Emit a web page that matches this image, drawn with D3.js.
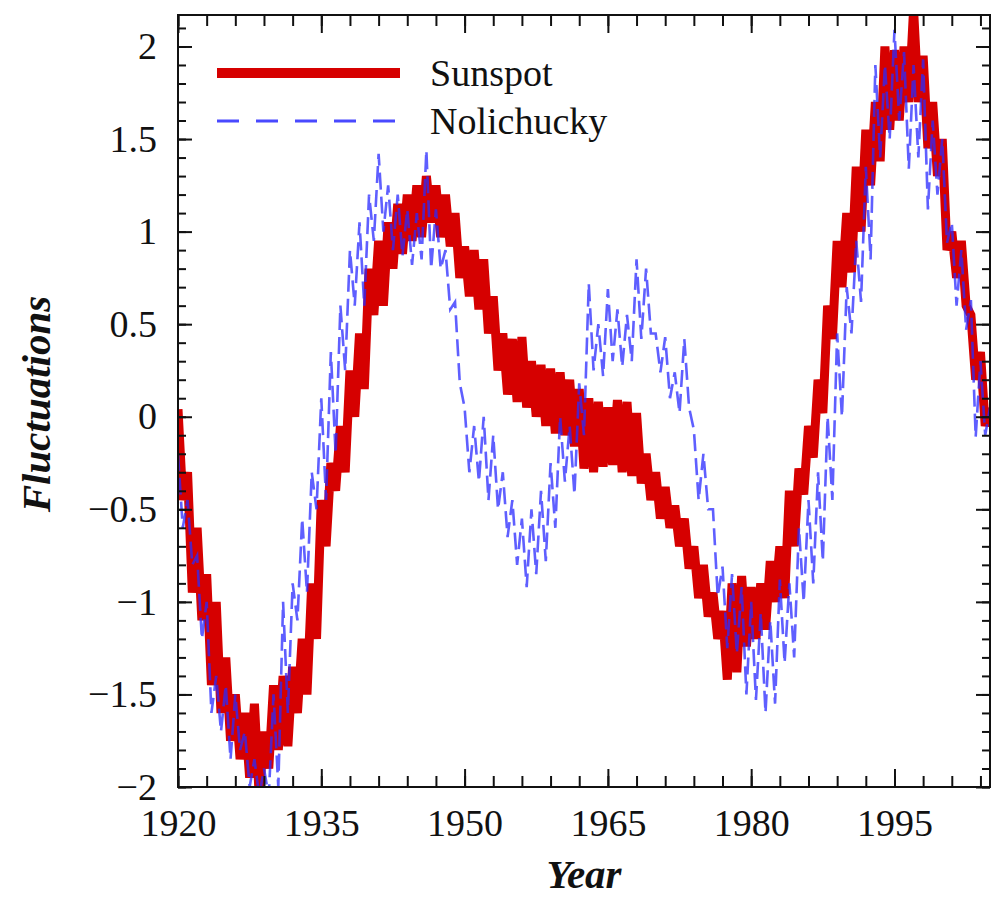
<!DOCTYPE html>
<html>
<head>
<meta charset="utf-8">
<script src="https://cdn.jsdelivr.net/npm/d3@7"></script>
<style>
  html, body { margin: 0; padding: 0; background: #fff; }
  svg { display: block; }
  text { font-family: "Liberation Serif", "Times New Roman", serif; fill: #111; }
</style>
</head>
<body>
<svg id="chart" width="991" height="898"></svg>
<script>
// ---- data (half-year samples, starting 1920.0) ----
const startYear = 1920;
const sampleStep = 0.5;
const sunspot = [
  0.04,-0.45, -0.3,-0.95, -0.6,-1.1, -0.85,-1.45, -1.0,-1.6,
  -1.3,-1.75, -1.5,-1.85, -1.6,-1.95, -1.55,-2.05, -1.7,-1.9,
  -1.45,-1.8, -1.4,-1.78, -1.35,-1.6, -1.2,-1.5, -0.9,-1.2,
  -0.45,-0.7, -0.25,-0.4, -0.05,-0.3, 0.25,0.0, 0.45,0.15,
  0.8,0.55, 0.95,0.6, 1.05,0.8, 1.15,0.88, 1.2,0.95,
  1.25,0.97, 1.3,1.05, 1.25,0.97, 1.2,0.92, 1.1,0.75,
  0.92,0.65, 0.9,0.58, 0.85,0.45, 0.65,0.25, 0.45,0.12,
  0.42,0.08, 0.43,0.05, 0.3,0.0, 0.28,-0.05, 0.26,-0.09,
  0.24,-0.1, 0.2,-0.16, 0.15,-0.28, 0.1,-0.3, 0.08,-0.27,
  0.05,-0.26, 0.09,-0.3, 0.08,-0.32, 0.02,-0.36, -0.2,-0.45,
  -0.3,-0.55, -0.38,-0.6, -0.48,-0.7, -0.55,-0.82, -0.7,-0.98,
  -0.8,-1.08, -0.95,-1.2, -1.05,-1.42, -0.9,-1.38, -0.86,-1.24,
  -0.92,-1.2, -0.9,-1.15, -0.78,-1.0, -0.7,-0.98, -0.4,-0.7,
  -0.28,-0.42, -0.05,-0.22, 0.2,0.02, 0.6,0.42, 0.95,0.7,
  1.1,0.78, 1.35,1.0, 1.55,1.25, 1.7,1.38, 2.0,1.55,
  1.98,1.6, 2.0,1.7, 2.2,1.7, 1.95,1.45, 1.7,1.3,
  1.5,0.9, 1.0,0.75, 0.95,0.6, 0.55,0.2, 0.35,-0.05,
  0.05
];
const nolichucky = [
  -0.2,-0.6, -0.45,-0.8, -0.75,-1.2, -1.0,-1.6, -1.4,-1.7,
  -1.45,-1.85, -1.5,-1.8, -1.7,-2.0, -1.85,-2.05, -1.9,-2.05,
  -1.5,-2.0, -1.0,-1.6, -0.9,-1.1, -0.55,-0.95, -0.3,-0.5,
  0.1,-0.45, 0.35,-0.2, 0.6,0.25, 0.9,0.6, 1.05,0.6,
  1.2,0.95, 1.42,1.0, 1.25,0.9, 1.2,0.87, 1.12,0.82,
  1.1,0.85, 1.44,0.8, 1.12,0.8, 0.9,0.58, 0.62,0.18,
  0.05,-0.3, -0.05,-0.35, 0.0,-0.45, -0.1,-0.5, -0.3,-0.65,
  -0.45,-0.8, -0.55,-0.92, -0.5,-0.85, -0.4,-0.78, -0.25,-0.6,
  0.0,-0.35, -0.05,-0.42, 0.18,-0.1, 0.72,0.25, 0.5,0.22,
  0.69,0.3, 0.58,0.27, 0.55,0.3, 0.85,0.42, 0.8,0.45,
  0.45,0.24, 0.43,0.1, 0.24,0.02, 0.42,0.05, -0.07,-0.45,
  -0.2,-0.5, -0.5,-0.97, -0.81,-1.25, -0.85,-1.28, -0.92,-1.5,
  -1.0,-1.53, -1.06,-1.6, -1.1,-1.55, -0.88,-1.33, -0.9,-1.3,
  -0.6,-1.0, -0.45,-0.9, -0.3,-0.78, 0.0,-0.45, 0.45,0.0,
  0.7,0.45, 0.95,0.62, 1.35,0.85, 1.9,1.4, 1.9,1.5,
  2.09,1.6, 1.97,1.34, 1.9,1.4, 1.93,1.12, 1.6,1.2,
  1.5,0.94, 1.05,0.6, 0.9,0.47, 0.63,-0.11, 0.3,-0.1,
  0.05
];
const xMajorTicks = [1920, 1935, 1950, 1965, 1980, 1995];
const xMinorTicks = d3.range(1920, 2005, 3);
const yMajorTicks = [-2, -1.5, -1, -0.5, 0, 0.5, 1, 1.5, 2];
const yMinorTicks = d3.range(-20, 22).map(d => d / 10);
const seriesNames = ["Sunspot", "Nolichucky"];

// ---- layout ----
const L = 178, R = 990, T = 15, B = 787;
const svg = d3.select("#chart");
const x = d3.scaleLinear().domain([1920, 2005]).range([L, R]);
const y = d3.scaleLinear().domain([-2, 2.17]).range([B, T]);

svg.append("defs").append("clipPath").attr("id", "clip")
  .append("rect").attr("x", L).attr("y", T).attr("width", R - L).attr("height", B - T);

const toPts = arr => arr.map((v, i) => [startYear + i * sampleStep, v]);
const line = d3.line().x(d => x(d[0])).y(d => y(d[1]));

const plot = svg.append("g").attr("clip-path", "url(#clip)");
plot.append("path").datum(toPts(sunspot))
  .attr("d", line).attr("fill", "none")
  .attr("stroke", "#d60000").attr("stroke-width", 9)
  .attr("stroke-linejoin", "miter").attr("stroke-miterlimit", 2);
plot.append("path").datum(toPts(nolichucky))
  .attr("d", line).attr("fill", "none")
  .attr("stroke", "#2a2aff").attr("stroke-width", 2.6)
  .attr("stroke-dasharray", "17,7").attr("opacity", 0.75);

// ---- axes ----
function styleAxis(g) {
  g.select(".domain").remove();
  g.selectAll(".tick line").attr("stroke", "#111").attr("stroke-width", 2);
  g.selectAll("text").style("font-size", "38px")
    .style("font-family", '"Liberation Serif","Times New Roman",serif').attr("fill", "#111");
}
const fmt = d3.format("~g");
// bottom
svg.append("g").attr("transform", `translate(0,${B})`)
  .call(d3.axisBottom(x).tickValues(xMinorTicks).tickSize(-11).tickFormat(""))
  .call(styleAxis);
svg.append("g").attr("transform", `translate(0,${B})`)
  .call(d3.axisBottom(x).tickValues(xMajorTicks).tickSize(-18).tickPadding(22).tickFormat(d3.format("d")))
  .call(styleAxis);
// top
svg.append("g").attr("transform", `translate(0,${T})`)
  .call(d3.axisTop(x).tickValues(xMinorTicks).tickSize(-11).tickFormat(""))
  .call(styleAxis);
svg.append("g").attr("transform", `translate(0,${T})`)
  .call(d3.axisTop(x).tickValues(xMajorTicks).tickSize(-18).tickFormat(""))
  .call(styleAxis);
// left
svg.append("g").attr("transform", `translate(${L},0)`)
  .call(d3.axisLeft(y).tickValues(yMinorTicks).tickSize(-8).tickFormat(""))
  .call(styleAxis);
svg.append("g").attr("transform", `translate(${L},0)`)
  .call(d3.axisLeft(y).tickValues(yMajorTicks).tickSize(-14).tickPadding(21).tickFormat(fmt))
  .call(styleAxis);
// right
svg.append("g").attr("transform", `translate(${R},0)`)
  .call(d3.axisRight(y).tickValues(yMinorTicks).tickSize(-8).tickFormat(""))
  .call(styleAxis);
svg.append("g").attr("transform", `translate(${R},0)`)
  .call(d3.axisRight(y).tickValues(yMajorTicks).tickSize(-14).tickFormat(""))
  .call(styleAxis);

// frame
svg.append("rect").attr("x", L).attr("y", T).attr("width", R - L).attr("height", B - T)
  .attr("fill", "none").attr("stroke", "#111").attr("stroke-width", 2);

// axis titles
svg.append("text").attr("x", 584).attr("y", 888).attr("text-anchor", "middle")
  .style("font-size", "41px").style("font-weight", "bold").style("font-style", "italic")
  .text("Year");
svg.append("text").attr("transform", "translate(50,404) rotate(-90)").attr("text-anchor", "middle")
  .style("font-size", "41px").style("font-weight", "bold").style("font-style", "italic")
  .text("Fluctuations");

// legend
const lg = svg.append("g");
lg.append("line").attr("x1", 217).attr("x2", 400).attr("y1", 73).attr("y2", 73)
  .attr("stroke", "#d60000").attr("stroke-width", 10);
lg.append("line").attr("x1", 217).attr("x2", 400).attr("y1", 121).attr("y2", 121)
  .attr("stroke", "#2a2aff").attr("stroke-width", 3).attr("stroke-dasharray", "22,17").attr("opacity", 0.85);
lg.append("text").attr("x", 430).attr("y", 86).style("font-size", "38px").text(seriesNames[0]);
lg.append("text").attr("x", 430).attr("y", 134).style("font-size", "38px").text(seriesNames[1]);
</script>
</body>
</html>
